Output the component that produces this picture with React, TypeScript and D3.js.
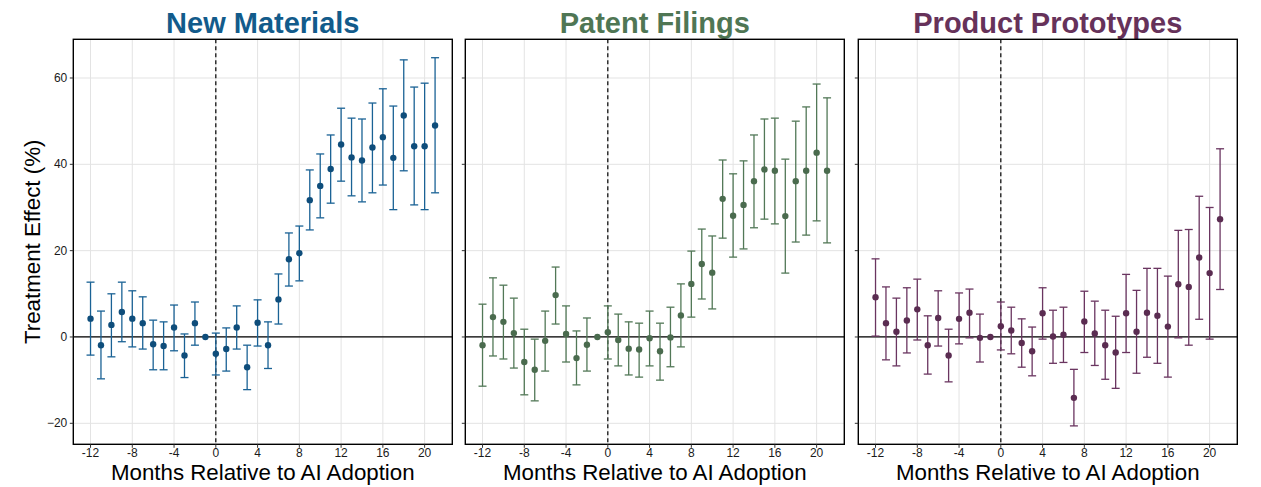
import * as d3 from "d3";

// months relative to adoption, -1 is the reference month (no interval)
const months = d3.range(-12, 22);

const titles = ["New Materials", "Patent Filings", "Product Prototypes"];
const titleColors = ["#125b8b", "#4f7654", "#66325a"];
const pointColors = ["#0e4d7b", "#4a6b4e", "#5a2c51"];
const barColors = ["#1a6295", "#527857", "#6a3560"];

const estMaterials = [4.25, -1.9, 2.8, 5.8, 4.25, 3.2, -1.7, -2.1, 2.2, -4.3, 3.2, 0, -3.9, -2.8, 2.2, -7.0, 3.3, -1.9, 8.7, 18.0, 19.4, 31.7, 35.0, 38.9, 44.6, 41.6, 40.9, 43.9, 46.3, 41.5, 51.3, 44.2, 44.2, 49.0];
const hiMaterials = [12.7, 6.0, 10.0, 12.7, 10.7, 9.3, 3.9, 3.5, 7.4, 0.7, 8.1, null, 0.9, 2.1, 7.2, -1.9, 8.6, 3.5, 14.6, 24.1, 25.7, 38.7, 42.4, 46.8, 53.0, 50.7, 50.5, 54.2, 57.5, 53.5, 64.2, 57.9, 58.8, 64.7];
const loMaterials = [-4.2, -9.7, -4.6, -1.1, -2.3, -2.8, -7.6, -7.6, -3.2, -9.4, -1.9, null, -8.8, -7.9, -2.8, -12.2, -2.1, -7.3, 3.0, 11.8, 13.0, 24.8, 27.6, 31.0, 36.1, 32.7, 31.3, 33.4, 35.2, 29.5, 38.5, 30.6, 29.5, 33.4];

const estPatents = [-1.9, 4.6, 3.5, 0.9, -5.8, -7.6, -0.9, 9.7, 0.7, -4.9, -1.8, 0, 1.1, -0.7, -2.7, -2.9, -0.3, -3.3, -0.1, 5.0, 12.3, 16.9, 14.9, 32.0, 28.1, 30.6, 36.1, 38.8, 38.5, 28.0, 36.1, 38.5, 42.7, 38.5];
const hiPatents = [7.6, 13.7, 12.0, 9.0, 1.8, -0.5, 6.0, 16.2, 7.2, 1.4, 4.4, null, 7.2, 5.3, 3.5, 3.2, 6.0, 3.2, 6.9, 12.3, 19.9, 25.0, 23.4, 41.0, 37.8, 40.8, 46.8, 50.5, 50.7, 41.2, 50.0, 53.3, 58.6, 55.4];
const loPatents = [-11.4, -4.4, -5.1, -7.2, -13.4, -14.8, -7.9, 3.0, -5.8, -11.1, -7.9, null, -5.1, -6.7, -8.8, -9.3, -6.7, -10.0, -6.9, -2.3, 4.6, 8.8, 6.5, 22.9, 18.5, 20.4, 25.3, 27.3, 26.2, 14.8, 22.0, 23.6, 26.9, 21.8];

const estPrototypes = [9.2, 3.2, 1.2, 3.8, 6.4, -1.9, 4.4, -4.3, 4.2, 5.6, -0.2, 0, 2.5, 1.5, -1.4, -3.3, 5.5, 0.1, 0.5, -14.1, 3.6, 0.8, -1.9, -3.6, 5.5, 1.2, 5.6, 4.9, 2.4, 12.2, 11.6, 18.4, 14.8, 27.3];
const hiPrototypes = [18.1, 11.6, 9.0, 11.4, 13.4, 4.9, 10.7, 1.8, 10.2, 11.1, 5.3, null, 8.1, 6.9, 4.2, 2.3, 11.4, 6.2, 6.9, -7.5, 10.6, 8.3, 6.2, 4.8, 14.5, 10.8, 15.9, 15.9, 14.1, 24.7, 24.9, 32.6, 30.0, 43.6];
const loPrototypes = [0.2, -5.3, -6.7, -3.7, -0.7, -8.6, -2.1, -10.4, -1.6, -0.2, -5.8, null, -3.0, -3.9, -7.0, -9.0, -0.5, -6.1, -5.9, -20.6, -3.6, -6.6, -9.8, -11.9, -3.6, -8.4, -4.7, -6.1, -9.3, -0.2, -1.9, 4.1, -0.5, 11.0];

const xTicks = [-12, -8, -4, 0, 4, 8, 12, 16, 20];
const yTicks = [-20, 0, 20, 40, 60];

const width = 1261;
const height = 487;
const panelLefts = [73.3, 465.3, 858.3];
const panelW = 379;
const top = 39.3;
const bottom = 444.3;
const font = "'Liberation Sans', Arial, sans-serif";

const series = [
  { est: estMaterials, hi: hiMaterials, lo: loMaterials },
  { est: estPatents, hi: hiPatents, lo: loPatents },
  { est: estPrototypes, hi: hiPrototypes, lo: loPrototypes },
];

// ggplot-like 5% expansion on shared y
const allVals = series.flatMap((s) => [...s.hi, ...s.lo].filter((v) => v != null)) as number[];
const [yMin, yMax] = d3.extent(allVals) as [number, number];
const yPad = (yMax - yMin) * 0.05;
const xPad = (21 - -12) * 0.05;

const y = d3.scaleLinear([yMin - yPad, yMax + yPad], [bottom, top]);

function Panel({ idx }: { idx: number }) {
  const left = panelLefts[idx];
  const x = d3.scaleLinear([-12 - xPad, 21 + xPad], [left, left + panelW]);
  const s = series[idx];
  const cx = left + panelW / 2;
  return (
    <g>
      <text x={cx} y={33} textAnchor="middle" fontFamily={font} fontWeight="bold" fontSize={29} fill={titleColors[idx]}>
        {titles[idx]}
      </text>
      {/* grid */}
      {xTicks.map((t) => (
        <line key={"gx" + t} x1={x(t)} x2={x(t)} y1={top} y2={bottom} stroke="#e3e3e3" strokeWidth={1} />
      ))}
      {yTicks.map((t) => (
        <line key={"gy" + t} x1={left} x2={left + panelW} y1={y(t)} y2={y(t)} stroke="#e3e3e3" strokeWidth={1} />
      ))}
      <line x1={left} x2={left + panelW} y1={y(0)} y2={y(0)} stroke="#000" strokeWidth={1.2} />
      <line x1={x(0)} x2={x(0)} y1={top} y2={bottom} stroke="#000" strokeWidth={1.2} strokeDasharray="4,3" />
      {/* error bars */}
      {months.map((m, i) => {
        const hi = s.hi[i];
        const lo = s.lo[i];
        if (hi == null || lo == null) return null;
        const px = x(m);
        return (
          <g key={"e" + m} stroke={barColors[idx]} strokeWidth={1.3}>
            <line x1={px} x2={px} y1={y(hi)} y2={y(lo)} />
            <line x1={px - 4} x2={px + 4} y1={y(hi)} y2={y(hi)} />
            <line x1={px - 4} x2={px + 4} y1={y(lo)} y2={y(lo)} />
          </g>
        );
      })}
      {months.map((m, i) => (
        <circle key={"p" + m} cx={x(m)} cy={y(s.est[i])} r={3.2} fill={pointColors[idx]} />
      ))}
      {/* frame */}
      <rect x={left} y={top} width={panelW} height={bottom - top} fill="none" stroke="#000" strokeWidth={1.4} />
      {/* x axis ticks */}
      {xTicks.map((t) => (
        <g key={"xt" + t}>
          <line x1={x(t)} x2={x(t)} y1={bottom} y2={bottom + 3.5} stroke="#333" strokeWidth={1} />
          <text x={x(t)} y={457} textAnchor="middle" fontFamily={font} fontSize={12} fill="#1a1a1a">
            {t < 0 ? "-" + Math.abs(t) : t}
          </text>
        </g>
      ))}
      {yTicks.map((t) => (
        <g key={"yt" + t}>
          <line x1={left - 3.5} x2={left} y1={y(t)} y2={y(t)} stroke="#333" strokeWidth={1} />
          {idx === 0 && (
            <text x={left - 6} y={y(t) + 4} textAnchor="end" fontFamily={font} fontSize={12} fill="#1a1a1a">
              {t < 0 ? "\u2212" + Math.abs(t) : t}
            </text>
          )}
        </g>
      ))}
      <text x={cx} y={480} textAnchor="middle" fontFamily={font} fontSize={22.3} fill="#000">
        Months Relative to AI Adoption
      </text>
    </g>
  );
}

export default function App() {
  return (
    <svg width={width} height={height} style={{ position: "absolute", left: 0, top: 0, background: "#fff" }}>
      <rect width={width} height={height} fill="#fff" />
      {[0, 1, 2].map((i) => (
        <Panel key={i} idx={i} />
      ))}
      <text
        transform={`translate(40,${(top + bottom) / 2}) rotate(-90)`}
        textAnchor="middle"
        fontFamily={font}
        fontSize={22.3}
        fill="#000"
      >
        Treatment Effect (%)
      </text>
    </svg>
  );
}
